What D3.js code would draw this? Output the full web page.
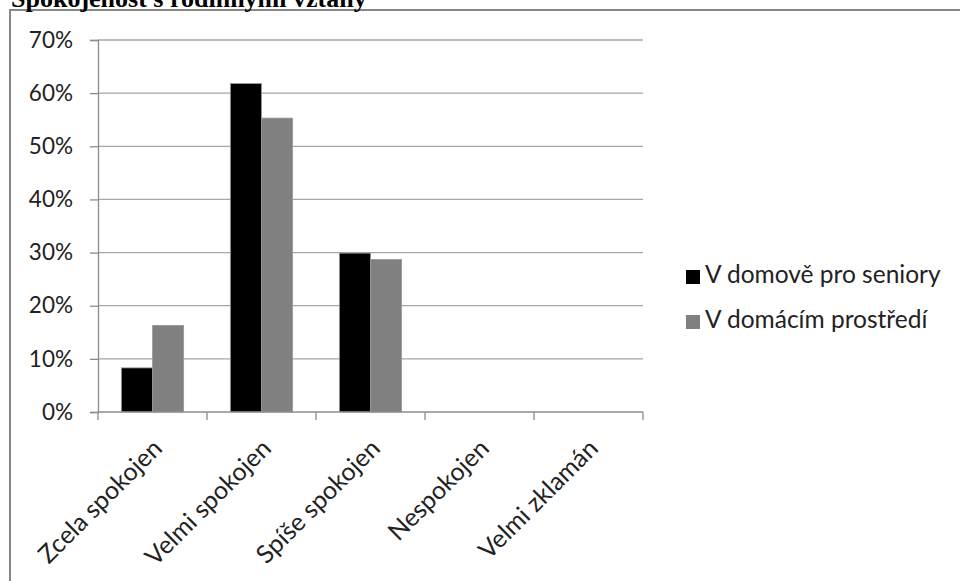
<!DOCTYPE html>
<html><head><meta charset="utf-8">
<script src="https://cdn.jsdelivr.net/npm/d3@7/dist/d3.min.js"></script>
<style>body{margin:0;background:#fff;} svg{display:block;}</style>
</head><body>
<script>
const title = "Spokojenost s rodinnými vztahy";
const categories = ["Zcela spokojen", "Velmi spokojen", "Spíše spokojen", "Nespokojen", "Velmi zklamán"];
const seriesNames = ["V domově pro seniory", "V domácím prostředí"];
const seniorHome = [8.3, 61.8, 29.9, 0, 0];
const homeEnv = [16.3, 55.3, 28.7, 0, 0];
const yTicks = [0, 10, 20, 30, 40, 50, 60, 70];
const seriesColors = ["#000000", "#808080"];

const W = 960, H = 581;
const font = "Lato, 'Open Sans', sans-serif";
const svg = d3.select("body").append("svg").attr("width", W).attr("height", H);

// outer chart border (only top and left visible)
svg.append("rect").attr("x", 10).attr("y", 10).attr("width", 1200).attr("height", 1200)
  .attr("fill", "none").attr("stroke", "#878787").attr("stroke-width", 2);

// title (clipped at top, as in the reference)
svg.append("text").attr("x", 11).attr("y", 7)
  .attr("font-family", "'Liberation Serif', 'Times New Roman', serif")
  .attr("font-weight", "bold").attr("font-size", 26).attr("fill", "#000").text(title);

const x0 = 98, x1 = 643, yTop = 40, yBot = 412;
const x = d3.scaleBand().domain(categories).range([x0, x1]).paddingInner(0).paddingOuter(0);
const y = d3.scaleLinear().domain([0, 70]).range([yBot, yTop]);
const bw = x.bandwidth() / 3.5;

// gridlines
svg.append("g").selectAll("line").data(yTicks.filter(d => d > 0)).join("line")
  .attr("x1", x0).attr("x2", x1).attr("y1", d => y(d)).attr("y2", d => y(d))
  .attr("stroke", "#a6a6a6").attr("stroke-width", 1.3);

// bars
const series = [seniorHome, homeEnv];
series.forEach((vals, si) => {
  svg.append("g").selectAll("rect").data(categories.map((c, i) => ({c, v: vals[i]})).filter(d => d.v > 0)).join("rect")
    .attr("x", d => x(d.c) + 0.75 * bw + si * bw)
    .attr("y", d => y(d.v))
    .attr("width", bw)
    .attr("height", d => y(0) - y(d.v))
    .attr("fill", seriesColors[si])
    .attr("stroke", "#999").attr("stroke-width", 0.8);
});

// y axis
const yAxis = d3.axisLeft(y).tickValues(yTicks).tickFormat(d => d + "%").tickSize(8).tickPadding(17);
const gy = svg.append("g").attr("transform", `translate(${x0},0)`).call(yAxis);
gy.select(".domain").attr("stroke", "#8c8c8c").attr("stroke-width", 1.3);
gy.selectAll(".tick line").attr("stroke", "#8c8c8c").attr("stroke-width", 1.3);
gy.selectAll(".tick text").attr("font-family", font).attr("font-size", 22.5).attr("fill", "#222");

// x axis
const gx = svg.append("g").attr("transform", `translate(0,${yBot})`);
gx.append("line").attr("x1", x0).attr("x2", x1).attr("stroke", "#8c8c8c").attr("stroke-width", 1.3);
const bounds = categories.map(c => x(c)).concat([x1]);
gx.selectAll("line.tk").data(bounds).join("line").attr("class", "tk")
  .attr("x1", d => d).attr("x2", d => d).attr("y1", 0).attr("y2", 8)
  .attr("stroke", "#8c8c8c").attr("stroke-width", 1.3);
gx.selectAll("text").data(categories).join("text")
  .attr("transform", d => `translate(${x(d) + x.bandwidth() / 2 + 11},${38}) rotate(-45)`)
  .attr("text-anchor", "end").attr("font-family", font).attr("font-size", 25).attr("fill", "#222")
  .text(d => d);

// legend
const lg = svg.append("g");
seriesNames.forEach((n, i) => {
  const cy = 277 + i * 45;
  lg.append("rect").attr("x", 686).attr("y", cy - 7).attr("width", 14).attr("height", 14).attr("fill", seriesColors[i]);
  lg.append("text").attr("x", 705).attr("y", cy).attr("dominant-baseline", "middle")
    .attr("font-family", font).attr("font-size", 24.5).attr("fill", "#222").text(n);
});
</script>
</body></html>
